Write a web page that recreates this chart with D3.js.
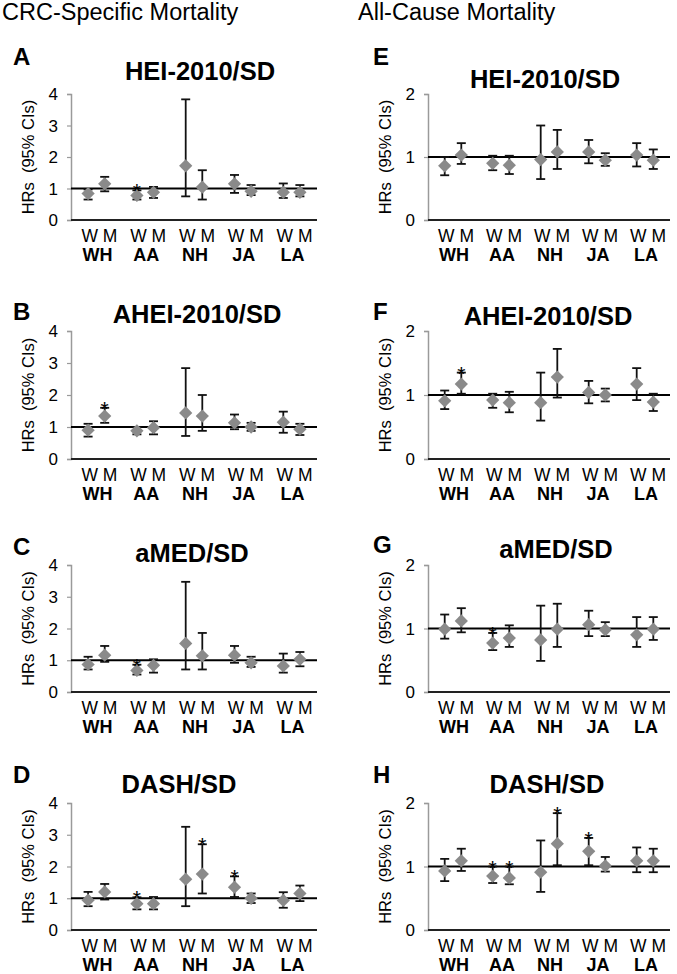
<!DOCTYPE html>
<html><head><meta charset="utf-8">
<script src="https://cdn.jsdelivr.net/npm/d3@7"></script>
<style>
body{margin:0;background:#fff}
svg{display:block}
text{font-family:"Liberation Sans",Arial,Helvetica,sans-serif;fill:#000}
</style>
</head><body>
<svg id="chart" width="677" height="974"></svg>
<script>
// ---------------- data ----------------
const groups = ["WH", "AA", "NH", "JA", "LA"];
const sexes = ["W", "M"];
const columnTitles = ["CRC-Specific Mortality", "All-Cause Mortality"];
const panelLetters = ["A", "B", "C", "D", "E", "F", "G", "H"];
const panelTitles = ["HEI-2010/SD", "AHEI-2010/SD", "aMED/SD", "DASH/SD",
                     "HEI-2010/SD", "AHEI-2010/SD", "aMED/SD", "DASH/SD"];
const yTitle = "HRs\u00a0\u00a0(95% CIs)";
const ticksCRC = [0, 1, 2, 3, 4];
const ticksAll = [0, 1, 2];

// order: WH-W, WH-M, AA-W, AA-M, NH-W, NH-M, JA-W, JA-M, LA-W, LA-M
const hrA = [0.84, 1.15, 0.78, 0.88, 1.72, 1.04, 1.15, 0.91, 0.88, 0.88];
const loA = [0.65, 0.91, 0.65, 0.70, 0.75, 0.65, 0.86, 0.79, 0.70, 0.75];
const hiA = [0.97, 1.37, 0.94, 1.05, 3.83, 1.58, 1.43, 1.11, 1.16, 1.11];
const sigA = [2];

const hrB = [0.90, 1.34, 0.88, 0.98, 1.44, 1.34, 1.13, 1.00, 1.15, 0.93];
const loB = [0.70, 1.13, 0.77, 0.77, 0.72, 0.88, 0.93, 0.88, 0.82, 0.75];
const hiB = [1.10, 1.60, 1.00, 1.18, 2.84, 2.00, 1.39, 1.13, 1.48, 1.10];
const sigB = [1];

const hrC = [0.87, 1.16, 0.68, 0.84, 1.53, 1.14, 1.16, 0.92, 0.82, 1.03];
const loC = [0.71, 0.95, 0.55, 0.61, 0.71, 0.71, 0.92, 0.79, 0.61, 0.81];
const hiC = [1.11, 1.45, 0.86, 1.03, 3.47, 1.86, 1.45, 1.11, 1.21, 1.26];
const sigC = [2];

const hrD = [0.94, 1.20, 0.83, 0.83, 1.60, 1.76, 1.35, 1.00, 0.93, 1.15];
const loD = [0.75, 0.96, 0.65, 0.65, 0.75, 1.15, 1.04, 0.85, 0.70, 0.91];
const hiD = [1.20, 1.45, 1.03, 1.04, 3.25, 2.70, 1.69, 1.15, 1.19, 1.40];
const sigD = [2, 5, 6];

const hrE = [0.86, 1.03, 0.90, 0.87, 0.96, 1.08, 1.08, 0.95, 1.03, 0.95];
const loE = [0.71, 0.89, 0.79, 0.73, 0.65, 0.81, 0.90, 0.86, 0.85, 0.81];
const hiE = [1.00, 1.22, 1.02, 1.02, 1.50, 1.43, 1.27, 1.06, 1.22, 1.12];
const sigE = [];

const hrF = [0.91, 1.17, 0.92, 0.88, 0.88, 1.28, 1.04, 1.00, 1.17, 0.89];
const loF = [0.78, 1.02, 0.80, 0.73, 0.60, 0.96, 0.87, 0.90, 0.92, 0.75];
const hiF = [1.07, 1.35, 1.02, 1.05, 1.35, 1.72, 1.22, 1.10, 1.42, 1.02];
const sigF = [1];

const hrG = [0.99, 1.12, 0.77, 0.85, 0.82, 0.99, 1.06, 0.98, 0.90, 0.99];
const loG = [0.84, 0.94, 0.66, 0.71, 0.49, 0.71, 0.88, 0.88, 0.71, 0.82];
const hiG = [1.22, 1.32, 0.93, 1.05, 1.36, 1.39, 1.28, 1.10, 1.18, 1.18];
const sigG = [2];

const hrH = [0.93, 1.09, 0.85, 0.82, 0.91, 1.36, 1.24, 1.01, 1.09, 1.09];
const loH = [0.77, 0.93, 0.74, 0.72, 0.60, 1.02, 1.02, 0.92, 0.91, 0.91];
const hiH = [1.12, 1.28, 1.00, 1.00, 1.41, 1.84, 1.45, 1.15, 1.30, 1.28];
const sigH = [2, 3, 5, 6];

const hrAll = [hrA, hrB, hrC, hrD, hrE, hrF, hrG, hrH];
const loAll = [loA, loB, loC, loD, loE, loF, loG, loH];
const hiAll = [hiA, hiB, hiC, hiD, hiE, hiF, hiG, hiH];
const sigAll = [sigA, sigB, sigC, sigD, sigE, sigF, sigG, sigH];

// ---------------- layout ----------------
const columns = [
  {x0: 71, x1: 317, letterX: 13, yTitleX: 28, headX: 2, ymax: 4, ticks: ticksCRC},
  {x0: 428, x1: 670, letterX: 373, yTitleX: 385, headX: 358, ymax: 2, ticks: ticksAll}
];
const rows = [
  {zero: 220, top: 94},
  {zero: 459, top: 331},
  {zero: 692, top: 565},
  {zero: 930, top: 803}
];
const titlePos = [[200, 80], [197, 323], [192, 562], [179, 793],
                  [545, 88], [548, 325], [556, 558], [547, 793]];
const letterY = [65, 320, 555, 783, 65, 320, 553, 783];
const markerColor = "#8a8a8a";

const svg = d3.select("#chart");

columnTitles.forEach((t, i) => {
  svg.append("text").attr("x", columns[i].headX).attr("y", 20)
    .attr("font-size", 23.5).text(t);
});

panelLetters.forEach((letter, p) => {
  const col = columns[Math.floor(p / 4)];
  const row = rows[p % 4];
  const g = svg.append("g");

  const x = d3.scaleBand().domain(groups).range([col.x0 + 1, col.x1 - 1]);
  const xs = d3.scalePoint().domain(sexes).range([-8.3, 8.3]);
  const y = d3.scaleLinear().domain([0, col.ymax]).range([row.zero, row.top]);
  const cx = i => x(groups[Math.floor(i / 2)]) + x.bandwidth() / 2 + xs(sexes[i % 2]);

  // letter and title
  g.append("text").attr("x", col.letterX).attr("y", letterY[p])
    .attr("font-size", 24).attr("font-weight", "bold").text(letter);
  g.append("text").attr("x", titlePos[p][0]).attr("y", titlePos[p][1])
    .attr("text-anchor", "middle").attr("font-size", 25.5).attr("font-weight", "bold")
    .text(panelTitles[p]);

  // y axis (line + ticks through d3 axis, labels placed explicitly)
  const yAxis = d3.axisLeft(y).tickValues(col.ticks).tickSize(4).tickFormat("");
  const ga = g.append("g").attr("transform", `translate(${col.x0},0)`).call(yAxis);
  ga.select(".domain").attr("stroke", "#9a9a9a").attr("stroke-width", 1.5);
  ga.selectAll(".tick line").attr("stroke", "#9a9a9a").attr("stroke-width", 1.2);
  g.selectAll(".ylab").data(col.ticks).join("text")
    .attr("x", col.x0 - 13).attr("y", d => y(d)).attr("dy", "0.36em")
    .attr("text-anchor", "end").attr("font-size", 17).text(d => d3.format("d")(d));

  // y title
  g.append("text")
    .attr("transform", `translate(${col.yTitleX},${(row.zero + row.top) / 2}) rotate(-90)`)
    .attr("text-anchor", "middle").attr("dy", "0.35em").attr("font-size", 16.5)
    .text(yTitle);

  // x axis baseline
  g.append("line").attr("x1", col.x0).attr("x2", col.x1)
    .attr("y1", y(0)).attr("y2", y(0)).attr("stroke", "#222").attr("stroke-width", 2);

  // reference line at HR = 1
  g.append("line").attr("x1", col.x0).attr("x2", col.x1)
    .attr("y1", y(1)).attr("y2", y(1)).attr("stroke", "#000").attr("stroke-width", 2);

  // x labels
  groups.forEach(gr => {
    const c = x(gr) + x.bandwidth() / 2;
    g.append("text").attr("x", c + 3).attr("y", y(0) + 22)
      .attr("text-anchor", "middle").attr("font-size", 17.5)
      .text(sexes.join("\u00a0"));
    g.append("text").attr("x", c + 1).attr("y", y(0) + 41)
      .attr("text-anchor", "middle").attr("font-size", 18).attr("font-weight", "bold")
      .text(gr);
  });

  const idx = d3.range(hrAll[p].length);
  const hr = hrAll[p], lo = loAll[p], hi = hiAll[p];

  // error bars
  const eb = g.append("g").attr("stroke", "#111").attr("stroke-width", 1.8);
  eb.selectAll(".v").data(idx).join("line")
    .attr("x1", cx).attr("x2", cx).attr("y1", i => y(lo[i])).attr("y2", i => y(hi[i]));
  eb.selectAll(".t").data(idx).join("line")
    .attr("x1", i => cx(i) - 4.5).attr("x2", i => cx(i) + 4.5)
    .attr("y1", i => y(hi[i])).attr("y2", i => y(hi[i]));
  eb.selectAll(".b").data(idx).join("line")
    .attr("x1", i => cx(i) - 4.5).attr("x2", i => cx(i) + 4.5)
    .attr("y1", i => y(lo[i])).attr("y2", i => y(lo[i]));

  // diamonds
  const sym = d3.symbol().type(d3.symbolSquare).size(88);
  g.selectAll(".pt").data(idx).join("path")
    .attr("d", sym)
    .attr("transform", i => `translate(${cx(i)},${y(hr[i])}) rotate(45)`)
    .attr("fill", markerColor);

  // significance stars
  g.selectAll(".star").data(sigAll[p]).join("text")
    .attr("x", cx).attr("y", i => y(hi[i]) + 8)
    .attr("text-anchor", "middle").attr("font-size", 21).text("*");
});
</script>
</body></html>
